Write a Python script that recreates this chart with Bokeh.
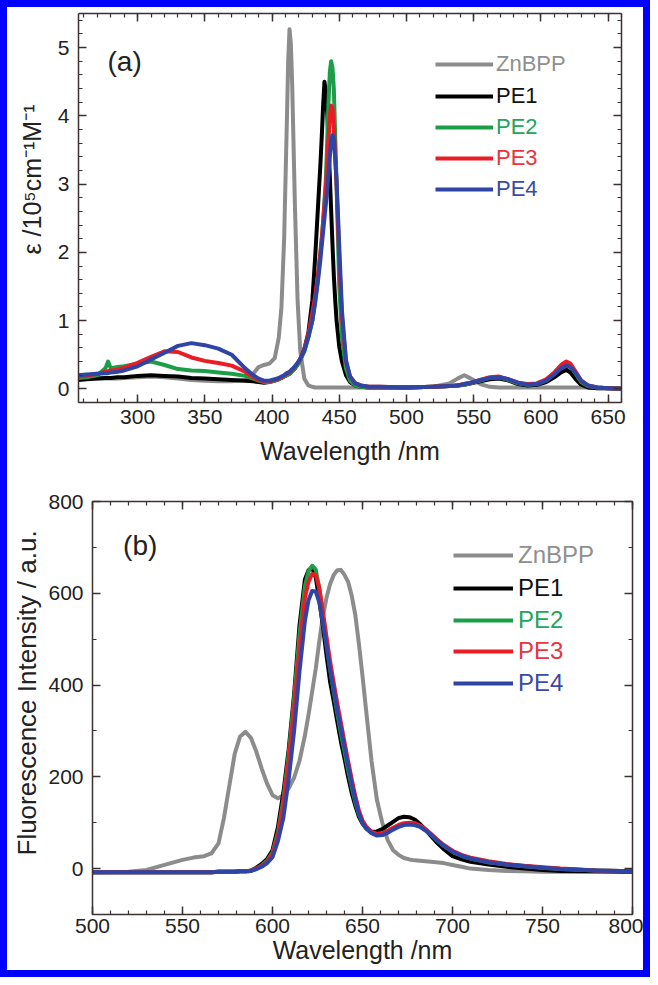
from bokeh.plotting import figure
from bokeh.models import (LinearAxis, Range1d, FixedTicker, Legend, LegendItem,
                          Label, Title)
from bokeh.layouts import column
from bokeh.embed import file_html
from bokeh.resources import INLINE

FONT = "Liberation Sans"
AX_COLOR = "#3b3131"
TXT = "#222222"

series_names = ["ZnBPP", "PE1", "PE2", "PE3", "PE4"]
line_colors = ["#8c8c8c", "#000000", "#1c9e48", "#ec1c24", "#2f45a6"]
label_colors = ["#8f8f8f", "#111111", "#25a45a", "#e63540", "#3b4ba3"]

# ---------------- panel (a): absorption ----------------
wl_abs = [256, 262, 270, 276, 278, 280, 285, 290, 300, 310,
          320, 330, 340, 350, 360, 370, 380, 386, 390, 394,
          398, 402, 405, 407, 409, 411, 412, 413, 414, 415,
          417, 419, 421, 424, 427, 430, 432, 434, 436, 437,
          438, 439, 440, 441, 442, 443, 444, 445, 446, 447,
          448, 450, 452, 455, 458, 462, 466, 472, 480, 500,
          520, 532, 538, 543, 548, 555, 562, 569, 576, 583,
          590, 597, 604, 610, 615, 619, 622, 626, 630, 635,
          642, 650, 660]

eps_znbpp = [0.18, 0.17, 0.15, 0.15, 0.15, 0.15, 0.15, 0.16, 0.17, 0.18,
             0.17, 0.15, 0.13, 0.12, 0.11, 0.11, 0.13, 0.22, 0.32, 0.35,
             0.37, 0.45, 0.75, 1.2, 2.2, 3.9, 4.8, 5.27, 5.05, 4.45,
             2.7, 1.3, 0.55, 0.15, 0.05, 0.03, 0.02, 0.02, 0.02, 0.02,
             0.02, 0.02, 0.02, 0.02, 0.02, 0.02, 0.02, 0.02, 0.02, 0.02,
             0.02, 0.02, 0.02, 0.02, 0.02, 0.02, 0.02, 0.02, 0.02, 0.02,
             0.03, 0.08, 0.15, 0.2, 0.15, 0.07, 0.03, 0.02, 0.02, 0.02,
             0.02, 0.02, 0.02, 0.02, 0.02, 0.02, 0.02, 0.02, 0.02, 0.02,
             0.01, 0.01, 0.01]

eps_pe1 = [0.13, 0.14, 0.15, 0.16, 0.16, 0.16, 0.17, 0.17, 0.19, 0.2,
           0.19, 0.18, 0.16, 0.15, 0.14, 0.13, 0.12, 0.11, 0.1, 0.09,
           0.1, 0.12, 0.14, 0.16, 0.18, 0.2, 0.21, 0.22, 0.24, 0.26,
           0.3, 0.36, 0.43, 0.58, 0.82, 1.3, 1.9, 2.6, 3.3, 3.7,
           4.15, 4.5, 4.35, 4.05, 3.6, 3.1, 2.6, 2.1, 1.65, 1.3,
           1.0, 0.62, 0.4, 0.2, 0.1, 0.05, 0.03, 0.02, 0.02, 0.02,
           0.03, 0.04, 0.05, 0.06, 0.08, 0.11, 0.14, 0.15, 0.12, 0.07,
           0.05, 0.06, 0.1, 0.17, 0.24, 0.28, 0.24, 0.14, 0.06, 0.02,
           0.01, 0.01, 0.0]

eps_pe2 = [0.16, 0.17, 0.2, 0.3, 0.4, 0.3, 0.32, 0.33, 0.37, 0.4,
           0.35, 0.29, 0.27, 0.26, 0.24, 0.22, 0.19, 0.15, 0.12, 0.1,
           0.1, 0.12, 0.14, 0.16, 0.18, 0.2, 0.21, 0.22, 0.24, 0.26,
           0.3, 0.35, 0.42, 0.55, 0.75, 1.0, 1.28, 1.6, 2.0, 2.2,
           2.45, 2.75, 3.05, 3.6, 4.2, 4.65, 4.8, 4.7, 4.38, 3.7,
           3.0, 1.5, 0.75, 0.3, 0.12, 0.05, 0.03, 0.02, 0.02, 0.02,
           0.03, 0.04, 0.05, 0.06, 0.08, 0.12, 0.16, 0.17, 0.13, 0.08,
           0.06, 0.07, 0.12, 0.22, 0.32, 0.38, 0.34, 0.22, 0.1, 0.04,
           0.02, 0.01, 0.0]

eps_pe3 = [0.18, 0.19, 0.22, 0.25, 0.26, 0.27, 0.28, 0.31, 0.38, 0.47,
           0.55, 0.54, 0.46, 0.41, 0.38, 0.34, 0.25, 0.17, 0.13, 0.11,
           0.11, 0.13, 0.15, 0.17, 0.19, 0.22, 0.23, 0.24, 0.26, 0.28,
           0.32, 0.37, 0.44, 0.58, 0.8, 1.12, 1.35, 1.65, 2.0, 2.2,
           2.45, 2.7, 2.95, 3.3, 3.65, 4.0, 4.15, 4.1, 3.82, 3.4,
           3.0, 1.9, 1.05, 0.4, 0.18, 0.08, 0.05, 0.03, 0.03, 0.02,
           0.03, 0.04, 0.05, 0.07, 0.09, 0.13, 0.17, 0.18, 0.14, 0.09,
           0.07, 0.08, 0.14, 0.24, 0.35, 0.4, 0.37, 0.25, 0.12, 0.05,
           0.02, 0.01, 0.0]

eps_pe4 = [0.2, 0.21, 0.22, 0.23, 0.23, 0.24, 0.25, 0.27, 0.33, 0.43,
           0.53, 0.63, 0.67, 0.64, 0.59, 0.5, 0.3, 0.2, 0.15, 0.12,
           0.12, 0.14, 0.16, 0.18, 0.2, 0.23, 0.24, 0.25, 0.27, 0.29,
           0.33, 0.38, 0.44, 0.56, 0.76, 1.0, 1.25, 1.55, 1.9, 2.1,
           2.3, 2.5, 2.7, 2.9, 3.15, 3.4, 3.63, 3.72, 3.64, 3.38,
           3.05, 2.1, 1.15, 0.42, 0.18, 0.08, 0.05, 0.03, 0.03, 0.02,
           0.03, 0.04, 0.05, 0.07, 0.09, 0.13, 0.16, 0.17, 0.14, 0.09,
           0.06, 0.07, 0.12, 0.21, 0.3, 0.34, 0.32, 0.23, 0.12, 0.05,
           0.02, 0.01, 0.0]

# ---------------- panel (b): fluorescence ----------------
wl_fl = [500, 520, 530, 540, 550, 556, 562, 566, 570, 573,
         576, 579, 582, 585, 588, 591, 594, 597, 600, 603,
         606, 609, 612, 615, 618, 620, 622, 624, 626, 628,
         630, 632, 634, 636, 638, 640, 642, 644, 646, 648,
         650, 652, 655, 658, 661, 664, 667, 670, 673, 676,
         679, 682, 685, 688, 691, 695, 700, 705, 710, 720,
         730, 740, 750, 760, 780, 800]

fl_znbpp = [-8, -7, -3, 8, 19, 24, 27, 33, 55, 110,
            180, 250, 288, 298, 285, 255, 218, 185, 160, 153,
            160, 175, 198, 235, 290, 335, 385, 435, 495, 550,
            590, 620, 640, 650, 651, 640, 625, 595, 553, 490,
            420, 345, 235, 150, 100, 62, 40, 30, 23, 20,
            18, 17, 16, 15, 14, 12, 8, 4, 0, -3,
            -5, -6, -7, -7, -7, -7]

fl_pe1 = [-8, -8, -8, -8, -8, -8, -8, -8, -7, -7,
          -7, -7, -6, -6, -4, 2, 10, 21, 40, 90,
          165, 260, 380, 530, 630, 650, 656, 635, 585, 528,
          465, 407, 365, 320, 277, 240, 200, 165, 137, 113,
          98, 88, 80, 81, 86, 94, 102, 110, 113, 112,
          107, 97, 85, 71, 58, 43, 27, 20, 15, 9,
          4, 0, -3, -5, -6, -7]

fl_pe2 = [-8, -8, -8, -8, -8, -8, -8, -8, -7, -7,
          -7, -7, -6, -6, -5, 0, 7, 17, 35, 78,
          150, 250, 370, 510, 615, 648, 660, 652, 610, 550,
          490, 435, 385, 338, 295, 255, 215, 178, 145, 118,
          100, 88, 78, 75, 77, 82, 88, 93, 97, 98,
          97, 92, 84, 74, 63, 50, 37, 28, 22, 14,
          9, 5, 2, -1, -4, -6]

fl_pe3 = [-8, -8, -8, -8, -8, -8, -8, -8, -7, -7,
          -7, -7, -6, -6, -5, 0, 6, 15, 32, 72,
          140, 235, 350, 480, 590, 625, 642, 640, 612, 560,
          505, 452, 405, 360, 318, 275, 235, 195, 158, 127,
          105, 92, 80, 76, 77, 82, 89, 95, 99, 100,
          99, 94, 86, 76, 65, 52, 39, 30, 24, 16,
          10, 6, 3, 0, -4, -6]

fl_pe4 = [-8, -8, -8, -8, -8, -8, -8, -8, -7, -7,
          -7, -7, -6, -6, -5, -1, 4, 12, 25, 60,
          110, 195, 300, 430, 540, 585, 605, 604, 580, 535,
          485, 435, 390, 345, 305, 265, 225, 185, 150, 120,
          100, 88, 77, 72, 73, 78, 85, 91, 95, 96,
          95, 91, 83, 74, 63, 50, 37, 28, 22, 14,
          9, 5, 2, -1, -4, -6]

# ---------------- ticks ----------------
abs_x_major = [300, 350, 400, 450, 500, 550, 600, 650]
abs_x_minor = list(range(260, 661, 10))
abs_y_major = [0, 1, 2, 3, 4, 5]
abs_y_minor = [round(-0.2 + 0.2 * i, 1) for i in range(29)]
fl_x_major = [500, 550, 600, 650, 700, 750, 800]
fl_x_minor = list(range(500, 801, 10))
fl_y_major = [0, 200, 400, 600, 800]
fl_y_minor = list(range(-100, 801, 100))


def base_axis_style(ax):
    ax.axis_line_color = AX_COLOR
    ax.axis_line_width = 1.5
    ax.major_tick_line_color = AX_COLOR
    ax.major_tick_line_width = 1.5
    ax.minor_tick_line_color = AX_COLOR
    ax.minor_tick_line_width = 1.2
    ax.major_tick_in = 8
    ax.major_tick_out = 0
    ax.minor_tick_in = 4
    ax.minor_tick_out = 0
    ax.major_label_text_font = FONT
    ax.major_label_text_color = TXT
    ax.axis_label_text_font = FONT
    ax.axis_label_text_font_style = "normal"
    ax.axis_label_text_color = TXT


def shown_axis(ax, ticks, label, tick_size, tick_standoff, lab_size, lab_standoff):
    base_axis_style(ax)
    ax.ticker = FixedTicker(ticks=ticks[0], minor_ticks=ticks[1])
    ax.axis_label = label
    ax.major_label_text_font_size = tick_size
    ax.major_label_standoff = tick_standoff
    ax.axis_label_text_font_size = lab_size
    ax.axis_label_standoff = lab_standoff


def hidden_axis(ticks):
    # mirror axis: ticks only, labels blank so it takes no room
    ax = LinearAxis(ticker=FixedTicker(ticks=ticks[0], minor_ticks=ticks[1]))
    base_axis_style(ax)
    ax.major_label_overrides = {t: "" for t in ticks[0]}
    ax.major_label_text_font_size = "1px"
    ax.major_label_text_alpha = 0
    ax.major_label_standoff = 0
    ax.axis_label = None
    ax.axis_label_standoff = 0
    return ax


def side_title(text, offset, standoff, size):
    return Title(text=text, align="left", offset=offset, standoff=standoff,
                 vertical_align="middle", text_font=FONT,
                 text_font_size=size, text_font_style="normal",
                 text_color=TXT)


def make_panel(width, height, xr, yr, borders):
    p = figure(width=width, height=height,
               x_range=Range1d(*xr), y_range=Range1d(*yr),
               output_backend="svg", toolbar_location=None,
               min_border_left=borders[0], min_border_right=borders[1],
               min_border_top=borders[2], min_border_bottom=borders[3])
    if hasattr(p, "frame_align"):
        p.frame_align = False
    p.xgrid.visible = False
    p.ygrid.visible = False
    p.outline_line_color = None
    p.background_fill_color = "white"
    p.border_fill_color = "white"
    return p


def add_legends(p, renderers, x0, ys, glyph_w, size, standoff):
    for r, name, col, y in zip(renderers, series_names, label_colors, ys):
        lg = Legend(items=[LegendItem(label=name, renderers=[r])],
                    location=(x0, y), glyph_width=glyph_w, glyph_height=22,
                    label_height=22, label_standoff=standoff, padding=0,
                    margin=0, spacing=0, border_line_alpha=0,
                    background_fill_alpha=0, label_text_font=FONT,
                    label_text_font_size=size, label_text_color=col)
        p.add_layout(lg)


# ---------------- panel (a) ----------------
p1 = make_panel(636, 470, (256, 660), (-0.2, 5.5), (71, 22, 6, 75))
shown_axis(p1.xaxis[0], (abs_x_major, abs_x_minor), "Wavelength /nm",
           "21px", 7, "25px", 10)
shown_axis(p1.yaxis[0], (abs_y_major, abs_y_minor), None,
           "21px", 9, "25px", 0)
p1.add_layout(side_title("\u03b5 /10\u2075cm\u207b\u00b9M\u207b\u00b9",
                         148, 16, "25px"), "left")
p1.add_layout(hidden_axis((abs_x_major, abs_x_minor)), "above")
p1.add_layout(hidden_axis((abs_y_major, abs_y_minor)), "right")

abs_series = [eps_znbpp, eps_pe1, eps_pe2, eps_pe3, eps_pe4]
r1 = [p1.line(wl_abs, ys, line_color=c, line_width=4, line_join="round")
      for ys, c in zip(abs_series, line_colors)]
add_legends(p1, r1, 357, [325, 293, 262, 231, 200], 58, "22px", 3)
p1.add_layout(Label(x=277.6, y=4.8, text="(a)", text_font=FONT,
                    text_font_size="28px", text_baseline="middle",
                    text_color=TXT))

# ---------------- panel (b) ----------------
p2 = make_panel(636, 493, (500, 800), (-100, 800), (82, 11, 24, 56))
shown_axis(p2.xaxis[0], (fl_x_major, fl_x_minor), "Wavelength /nm",
           "21px", 4, "25px", 0)
shown_axis(p2.yaxis[0], (fl_y_major, fl_y_minor), None,
           "21px", 9, "25px", 0)
p2.add_layout(side_title("Fluorescence Intensity / a.u.", 59, 6, "26px"),
              "left")
p2.add_layout(hidden_axis((fl_x_major, fl_x_minor)), "above")
p2.add_layout(hidden_axis((fl_y_major, fl_y_minor)), "right")

fl_series = [fl_znbpp, fl_pe1, fl_pe2, fl_pe3, fl_pe4]
r2 = [p2.line(wl_fl, ys, line_color=c, line_width=4, line_join="round")
      for ys, c in zip(fl_series, line_colors)]
add_legends(p2, r2, 361, [345, 312, 280, 249, 217], 60, "24px", 5)
p2.add_layout(Label(x=517, y=704, text="(b)", text_font=FONT,
                    text_font_size="28px", text_baseline="middle",
                    text_color=TXT))

layout = column(p1, p2, width=650, height=977,
                styles={"border": "7px solid #0000ff",
                        "box-sizing": "border-box",
                        "background-color": "white",
                        "margin-bottom": "-8px"})

open("out.html", "w").write(file_html(layout, INLINE))
